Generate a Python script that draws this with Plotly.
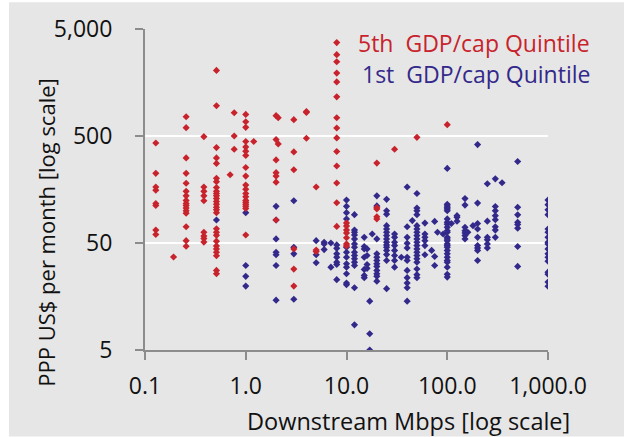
import plotly.graph_objects as go

# ---------------- data ----------------
# 5th GDP/cap quintile: downstream speed (Mbps) and price (PPP US$ / month)
red_x = (
    [0.128] * 8 + [0.192] + [0.256] * 16 + [0.384] * 9 + [0.512] * 27 + [0.7] + [0.768] * 3 + [1.2]
    + [1.0] * 19 + [2.0] * 7 + [2.1] * 2 + [3.0] * 6 + [4.0] * 3 + [5.0] * 3 + [8.0] * 14
    + [10.0] * 7 + [20.0] * 5 + [30.0] + [50.0] + [100.0]
)
red_y = [
    430, 224, 167, 156, 117, 112, 66, 60,
    37,
    757, 598, 312, 224, 181, 152, 138, 125, 117, 112, 106, 100, 95, 71, 52.6, 46.6,
    493, 167, 152, 138, 124, 63, 58, 55, 51,
    2050, 958, 390, 312, 277, 201, 187, 165, 152, 145, 138, 130, 122, 115, 108, 102, 96,
    68, 63, 59, 52, 47, 44, 41, 38, 27.7, 25.8,
    217,
    825, 500, 376,
    444,
    795, 680, 602, 444, 395, 361, 329, 254, 211, 174, 159, 145, 135, 125, 120, 115, 110, 105, 59.4,
    774, 463, 299, 227, 211, 185, 82,
    741, 422,
    711, 355, 242, 44, 28.5, 19.8,
    830, 845, 476,
    167, 43, 41.6,
    3730, 2880, 2470, 1937, 1600, 1161, 741, 594, 480, 358, 262, 182, 119, 71.4,
    77, 72, 66, 62, 56, 49, 47,
    279, 107, 104, 88, 84,
    376,
    486,
    638,
]

# 1st GDP/cap quintile
blue_x = (
    [0.512] + [1.0] * 4 + [2.0] * 7 + [3.0] * 4 + [5.0] * 3 + [6.0] * 3 + [7.0] * 2 + [8.0] * 7
    + [10.0] * 12 + [12.0] * 14 + [15.0] * 7 + [16.0] * 4 + [17.0] * 3 + [18.0] + [20.0] * 12
    + [25.0] * 15 + [30.0] * 8 + [35.0] + [40.0] * 12 + [45.0] + [50.0] * 19 + [60.0] * 6
    + [70.0] + [75.0] * 3 + [80.0] + [91.0] + [100.0] * 26 + [110.0] + [125.0] * 3
    + [150.0] * 7 + [160.0] + [180.0] + [200.0] * 9 + [250.0] * 6 + [300.0] * 8 + [350.0]
    + [500.0] * 8 + [1000.0] * 17
)
blue_y = [
    82,
    96, 30.8, 24.4, 19.8,
    110, 82, 54.6, 41, 38.8, 30.8, 14.6,
    124, 45.6, 39.6, 14.9,
    52.6, 38.8, 32.7,
    50.8, 49, 43.4,
    50, 29.7,
    48, 44.6, 39.6, 36.8, 33.1, 31.5, 22.7,
    126, 110, 96, 84, 45.6, 41, 36.8, 32, 29.7, 25.8, 21.1, 20.4,
    92, 66, 63, 59.4, 54.6, 49, 45.6, 41, 38.2, 35.6, 33.1, 30.8, 19.1, 8.6,
    56.5, 46.4, 44, 36.8, 28.3, 24.9, 23.7,
    44, 38.2, 31.5, 29,
    14.3, 7.1, 5.0,
    60.7,
    138, 111, 54.6, 39.6, 36.8, 34.3, 32, 30.2, 27.7, 25.8, 24.4, 22,
    128, 100, 93, 72.6, 67.6, 63, 58.6, 54.6, 50.8, 48, 45.6, 42.6, 39, 34.3, 18.7,
    60.7, 56.5, 50.8, 47.3, 42.6, 38.2, 34.3, 29.7,
    36.8,
    167, 71, 56.5, 49.6, 45, 36.8, 34.3, 27.7, 23.7, 21.1, 19.1, 14.3,
    81,
    145, 106, 100, 92, 72.6, 67.6, 63, 58.6, 54.6, 50.8, 47.3, 44, 41, 38.2, 35.6, 33.1, 28.6, 25.3, 23.7,
    76.8, 60.7, 56.5, 52.6, 47.3, 38.8,
    42.6,
    79.6, 37.4, 30.8,
    63,
    60.7,
    249, 115, 111, 107, 104, 100, 84, 78, 75, 70, 65, 63, 56.5, 54.6, 52.6, 49, 47.3, 45.6,
    42.6, 39.6, 36.8, 34.3, 33.1, 29.7, 25.5, 24,
    76,
    87, 90, 80,
    130, 113, 70, 65, 62, 58.6, 54.6,
    63,
    72.6,
    416, 118, 76, 67.6, 56.5, 47.3, 45, 42.6, 34.3,
    179, 80, 56.5, 53.6, 49, 45,
    199, 109.6, 100, 90, 82.4, 71, 66, 56.5,
    183,
    289, 108, 91.6, 78, 74.4, 68.8, 46.4, 30.2,
    126, 114, 102, 92, 67.6, 63, 56.5, 50.8, 49, 44, 39.6, 36.8, 33.8, 26.7, 25.5, 21.6, 19.7,
]

x_tickvals = [0.1, 1, 10, 100, 1000]
x_ticktext = ["0.1", "1.0", "10.0", "100.0", "1,000.0"]
y_tickvals = [5, 50, 500, 5000]
y_ticktext = ["5", "50", "500", "5,000"]

red_label = "5th\u00a0 GDP/cap Quintile"
blue_label = "1st\u00a0 GDP/cap Quintile"
x_title = "Downstream Mbps [log scale]"
y_title = "PPP US$ per month [log scale]"

# ---------------- styling ----------------
RED = "#C8232C"
BLUE = "#33298A"
BG = "#E6E6E6"
AXIS = "#8C8C8C"
FONT = "Open Sans"
W, H = 629, 437
L, R, T, B = 145, 81, 27, 87
PW, PH = W - L - R, H - T - B


def px_x(p):
    return (p - L) / PW


def px_y(p):
    return (H - B - p) / PH


fig = go.Figure()
fig.add_trace(go.Scatter(
    x=blue_x, y=blue_y, mode="markers", name=blue_label,
    marker=dict(symbol="diamond", size=5.5, color=BLUE, line=dict(width=0)),
))
fig.add_trace(go.Scatter(
    x=red_x, y=red_y, mode="markers", name=red_label,
    marker=dict(symbol="diamond", size=5.5, color=RED, line=dict(width=0)),
))

fig.update_layout(
    width=W, height=H,
    margin=dict(l=L, r=R, t=T, b=B, pad=0),
    paper_bgcolor="white",
    plot_bgcolor=BG,
    showlegend=False,
    font=dict(family=FONT, size=23, color="#111111"),
    shapes=[dict(
        type="rect", xref="paper", yref="paper", layer="below",
        x0=px_x(9), x1=px_x(624), y0=px_y(437), y1=px_y(0),
        fillcolor=BG, line=dict(width=0),
    )],
    xaxis=dict(
        type="log", range=[-1, 3], showgrid=False, zeroline=False,
        showline=True, linecolor=AXIS, linewidth=2,
        ticks="outside", ticklen=8, tickwidth=2, tickcolor=AXIS,
        tickvals=x_tickvals, ticktext=x_ticktext,
        tickfont=dict(family=FONT, size=23, color="#111111"),
        ticklabelstandoff=6,
    ),
    yaxis=dict(
        type="log", range=[0.69897, 3.69897], showgrid=True, gridcolor="white", gridwidth=2,
        zeroline=False, showline=True, linecolor=AXIS, linewidth=2,
        ticks="outside", ticklen=8, tickwidth=2, tickcolor=AXIS,
        tickvals=y_tickvals, ticktext=y_ticktext,
        tickfont=dict(family=FONT, size=23, color="#111111"),
        ticklabelstandoff=18,
    ),
    annotations=[
        dict(text=x_title, xref="paper", yref="paper", x=px_x(408), y=px_y(421),
             xanchor="center", yanchor="middle", showarrow=False,
             font=dict(family=FONT, size=23.5, color="#111111")),
        dict(text=y_title, xref="paper", yref="paper", x=px_x(46), y=px_y(232),
             xanchor="center", yanchor="middle", showarrow=False, textangle=-90,
             font=dict(family=FONT, size=22, color="#111111")),
        dict(text=red_label, xref="paper", yref="paper", x=px_x(592), y=px_y(41),
             xanchor="right", yanchor="middle", showarrow=False,
             font=dict(family=FONT, size=23, color=RED)),
        dict(text=blue_label, xref="paper", yref="paper", x=px_x(592), y=px_y(72),
             xanchor="right", yanchor="middle", showarrow=False,
             font=dict(family=FONT, size=23, color=BLUE)),
    ],
)

fig.write_html(
    "out.html",
    config={"displayModeBar": False},
    post_script="document.body.style.margin='0';document.body.style.overflow='hidden';",
)
